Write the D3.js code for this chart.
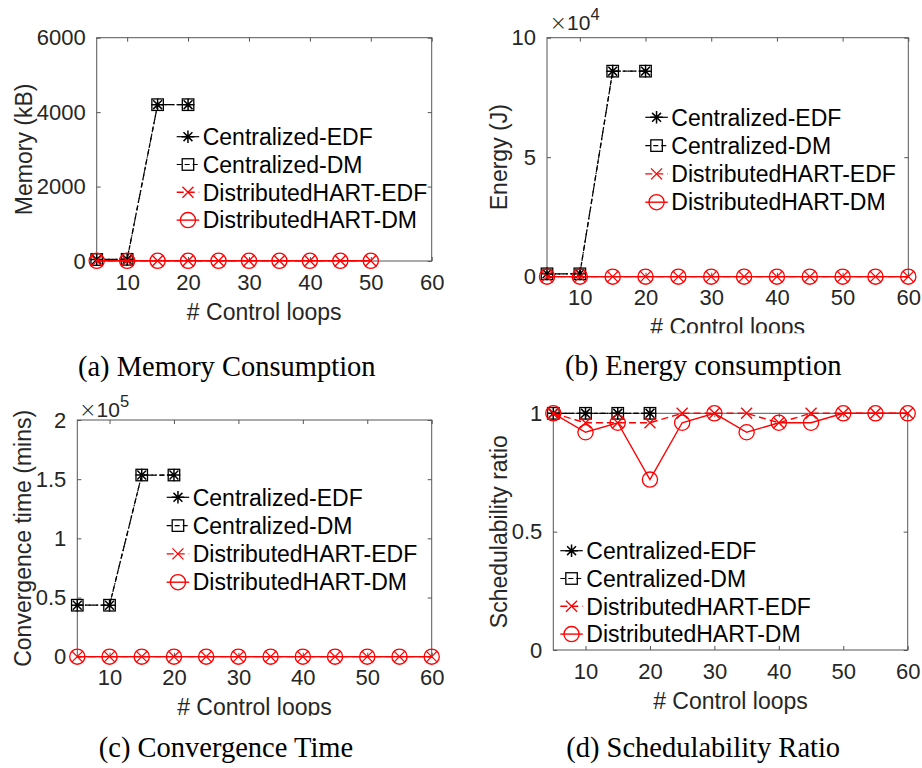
<!DOCTYPE html>
<html>
<head>
<meta charset="utf-8">
<script src="https://cdn.jsdelivr.net/npm/d3@7"></script>
<style>
  body { margin: 0; background: #fff; }
  svg { display: block; }
</style>
</head>
<body>
<svg id="fig" width="922" height="768"></svg>
<script>
// ---- data ----
const loopsAll = [5, 10, 15, 20, 25, 30, 35, 40, 45, 50, 55, 60];
const loopsCentral = [5, 10, 15, 20];
const loopsMemDist = [5, 10, 15, 20, 25, 30, 35, 40, 45, 50];

const seriesNames = ["Centralized-EDF", "Centralized-DM", "DistributedHART-EDF", "DistributedHART-DM"];

// Memory (kB)
const memCentralEDF = [40, 45, 4200, 4200];
const memCentralDM  = [40, 45, 4200, 4200];
const memDistEDF    = [5, 5, 5, 5, 5, 5, 5, 5, 5, 5];
const memDistDM     = [5, 5, 5, 5, 5, 5, 5, 5, 5, 5];

// Energy (J)
const energyCentralEDF = [1200, 1200, 86000, 86000];
const energyCentralDM  = [1200, 1200, 86000, 86000];
const energyDistEDF    = [20, 20, 20, 20, 20, 20, 20, 20, 20, 20, 20, 20];
const energyDistDM     = [20, 20, 20, 20, 20, 20, 20, 20, 20, 20, 20, 20];

// Convergence time (mins)
const convCentralEDF = [43500, 43500, 153500, 153500];
const convCentralDM  = [43500, 43500, 153500, 153500];
const convDistEDF    = [50, 50, 50, 50, 50, 50, 50, 50, 50, 50, 50, 50];
const convDistDM     = [50, 50, 50, 50, 50, 50, 50, 50, 50, 50, 50, 50];

// Schedulability ratio
const schedCentralEDF = [1, 1, 1, 1];
const schedCentralDM  = [1, 1, 1, 1];
const schedDistEDF    = [1, 0.96, 0.96, 0.96, 1, 1, 1, 0.96, 1, 1, 1, 1];
const schedDistDM     = [1, 0.92, 0.96, 0.72, 0.96, 1, 0.92, 0.96, 0.96, 1, 1, 1];

// ticks
const xTicks = [10, 20, 30, 40, 50, 60];
const memTicks = [0, 2000, 4000, 6000];
const energyTicks = [0, 50000, 100000];
const energyTickLabels = ["0", "5", "10"];
const convTicks = [0, 50000, 100000, 150000, 200000];
const convTickLabels = ["0", "0.5", "1", "1.5", "2"];
const schedTicks = [0, 0.5, 1];
const schedTickLabels = ["0", "0.5", "1"];

// ---- styles ----
const styles = [
  { color: "#000", dash: "5,2.5,1.5,2.5", marker: "asterisk", width: 1.2 },
  { color: "#000", dash: "5,3",           marker: "square",   width: 1.2 },
  { color: "#ff0000", dash: "7,4",        marker: "x",        width: 1.4 },
  { color: "#ff0000", dash: null,         marker: "circle",   width: 1.4 }
];

const TEXT = "#262626";
const SANS = "'Liberation Sans', Arial, Helvetica, sans-serif";
const SERIF = "'Liberation Serif', 'Times New Roman', serif";

const svg = d3.select("#fig");
const defs = svg.append("defs");

function drawMarker(g, type, cx, cy, color) {
  if (type === "asterisk") {
    const r = 6.3, d = r * 0.7071;
    const p = `M${cx - r},${cy}L${cx + r},${cy}M${cx},${cy - r}L${cx},${cy + r}` +
              `M${cx - d},${cy - d}L${cx + d},${cy + d}M${cx - d},${cy + d}L${cx + d},${cy - d}`;
    g.append("path").attr("d", p).attr("stroke", color).attr("stroke-width", 1.5).attr("fill", "none");
  } else if (type === "square") {
    const s = 11.5;
    g.append("rect").attr("x", cx - s / 2).attr("y", cy - s / 2).attr("width", s).attr("height", s)
      .attr("stroke", color).attr("stroke-width", 1.3).attr("fill", "none");
  } else if (type === "x") {
    const d = 5.5;
    g.append("path").attr("d", `M${cx - d},${cy - d}L${cx + d},${cy + d}M${cx - d},${cy + d}L${cx + d},${cy - d}`)
      .attr("stroke", color).attr("stroke-width", 1.3).attr("fill", "none");
  } else if (type === "circle") {
    g.append("circle").attr("cx", cx).attr("cy", cy).attr("r", 7.6)
      .attr("stroke", color).attr("stroke-width", 1.3).attr("fill", "none");
  }
}

function drawPanel(p) {
  const g = svg.append("g");
  const x = d3.scaleLinear().domain([5, 60]).range([p.L, p.R]);
  const y = d3.scaleLinear().domain(p.yDomain).range([p.B, p.T]);

  // axes box
  g.append("rect").attr("x", p.L).attr("y", p.T).attr("width", p.R - p.L).attr("height", p.B - p.T)
    .attr("fill", "none").attr("stroke", "#555").attr("stroke-width", 1);

  // x axis (bottom, inward ticks) and mirrored top ticks
  const xb = g.append("g").attr("transform", `translate(0,${p.B})`)
    .call(d3.axisBottom(x).tickValues(xTicks).tickSizeInner(-4).tickSizeOuter(0).tickPadding(13));
  const xt = g.append("g").attr("transform", `translate(0,${p.T})`)
    .call(d3.axisTop(x).tickValues(xTicks).tickSizeInner(-4).tickSizeOuter(0).tickFormat(""));
  // y axis (left, inward ticks) and mirrored right ticks
  const yl = g.append("g").attr("transform", `translate(${p.L},0)`)
    .call(d3.axisLeft(y).tickValues(p.yTicks).tickSizeInner(-4).tickSizeOuter(0).tickPadding(11)
      .tickFormat((d, i) => p.yTickLabels[i]));
  const yr = g.append("g").attr("transform", `translate(${p.R},0)`)
    .call(d3.axisRight(y).tickValues(p.yTicks).tickSizeInner(-4).tickSizeOuter(0).tickFormat(""));

  [xb, xt, yl, yr].forEach(a => {
    a.select(".domain").remove();
    a.selectAll(".tick line").attr("stroke", "#555");
    a.selectAll("text").attr("fill", TEXT).style("font-family", SANS).style("font-size", "22px");
  });
  xb.selectAll("text").attr("dy", "0.71em");

  // exponent label
  if (p.exp) {
    const t = g.append("text").attr("x", p.exp.x).attr("y", p.exp.y).attr("fill", TEXT)
      .style("font-family", SANS).style("font-size", "21px");
    t.append("tspan").style("font-family", "'DejaVu Sans', sans-serif").style("font-size", "21px")
      .style("font-weight", "300").text("\u00d7");
    t.append("tspan").text("10");
    t.append("tspan").attr("dy", -9.5).style("font-size", "16.5px").text(p.exp.power);
  }

  // axis labels
  const xl = g.append("text").attr("x", (p.L + p.R) / 2).attr("y", p.B + 50.5).attr("dy", "0.35em")
    .attr("text-anchor", "middle").attr("fill", TEXT)
    .style("font-family", SANS).style("font-size", "23px").text("# Control loops");
  if (p.clipY) {
    const id = "clip" + p.id;
    defs.append("clipPath").attr("id", id).append("rect")
      .attr("x", p.L - 100).attr("y", p.B).attr("width", p.R - p.L + 200).attr("height", p.clipY - p.B);
    xl.attr("clip-path", `url(#${id})`);
  }
  g.append("text")
    .attr("transform", `translate(${p.yLabelX},${(p.T + p.B) / 2}) rotate(-90)`)
    .attr("dy", "0.35em").attr("text-anchor", "middle").attr("fill", TEXT)
    .style("font-family", SANS).style("font-size", "23px").text(p.yLabel);

  // series lines and markers
  p.series.forEach((s, i) => {
    const st = styles[i];
    const pts = s.xs.map((xv, j) => [x(xv), y(s.ys[j])]);
    g.append("path").attr("d", d3.line()(pts)).attr("fill", "none")
      .attr("stroke", st.color).attr("stroke-width", st.width)
      .attr("stroke-dasharray", st.dash);
    const mg = g.append("g");
    pts.forEach(pt => drawMarker(mg, st.marker, pt[0], pt[1], st.color));
  });

  // legend
  const lg = g.append("g");
  seriesNames.forEach((name, i) => {
    const st = styles[i];
    const ly = p.legend.y + i * p.legend.step;
    const x0 = p.legend.x, x1 = p.legend.x + 22.5;
    lg.append("line").attr("x1", x0).attr("x2", x1).attr("y1", ly).attr("y2", ly)
      .attr("stroke", st.color).attr("stroke-width", st.width)
      .attr("stroke-dasharray", i === 0 ? null : st.dash);
    drawMarker(lg, st.marker, (x0 + x1) / 2, ly, st.color);
    lg.append("text").attr("x", x1 + 3.5).attr("y", ly).attr("dy", "0.36em").attr("fill", "#000")
      .style("font-family", SANS).style("font-size", "23px").text(name);
  });

  // caption
  g.append("text").attr("x", p.capX).attr("y", p.capY).attr("text-anchor", "middle").attr("fill", "#000")
    .style("font-family", SERIF).style("font-size", "28.5px").text(p.caption);
}

const panels = [
  {
    id: "a", L: 96.7, R: 431.7, T: 37.7, B: 261,
    yDomain: [0, 6000], yTicks: memTicks, yTickLabels: memTicks.map(String),
    yLabel: "Memory (kB)", yLabelX: 23.5,
    series: [
      { xs: loopsCentral, ys: memCentralEDF },
      { xs: loopsCentral, ys: memCentralDM },
      { xs: loopsMemDist, ys: memDistEDF },
      { xs: loopsMemDist, ys: memDistDM }
    ],
    legend: { x: 176.7, y: 136.7, step: 27.8 },
    caption: "(a) Memory Consumption", capX: 226.8, capY: 375.5
  },
  {
    id: "b", L: 547, R: 908.3, T: 37.7, B: 276.7,
    yDomain: [0, 100000], yTicks: energyTicks, yTickLabels: energyTickLabels,
    yLabel: "Energy (J)", yLabelX: 499.3,
    exp: { x: 549.5, y: 29.5, power: "4" },
    clipY: 333.3,
    series: [
      { xs: loopsCentral, ys: energyCentralEDF },
      { xs: loopsCentral, ys: energyCentralDM },
      { xs: loopsAll, ys: energyDistEDF },
      { xs: loopsAll, ys: energyDistDM }
    ],
    legend: { x: 645.3, y: 117.3, step: 28.3 },
    caption: "(b) Energy consumption", capX: 703.2, capY: 375
  },
  {
    id: "c", L: 77.3, R: 431.7, T: 420, B: 656.7,
    yDomain: [0, 200000], yTicks: convTicks, yTickLabels: convTickLabels,
    yLabel: "Convergence time (mins)", yLabelX: 23.3,
    exp: { x: 79, y: 416.7, power: "5" },
    clipY: 715.7,
    series: [
      { xs: loopsCentral, ys: convCentralEDF },
      { xs: loopsCentral, ys: convCentralDM },
      { xs: loopsAll, ys: convDistEDF },
      { xs: loopsAll, ys: convDistDM }
    ],
    legend: { x: 166.7, y: 497.3, step: 28.3 },
    caption: "(c) Convergence Time", capX: 226, capY: 756.7
  },
  {
    id: "d", L: 553.3, R: 907.7, T: 413.3, B: 650,
    yDomain: [0, 1], yTicks: schedTicks, yTickLabels: schedTickLabels,
    yLabel: "Schedulability ratio", yLabelX: 499.3,
    series: [
      { xs: loopsCentral, ys: schedCentralEDF },
      { xs: loopsCentral, ys: schedCentralDM },
      { xs: loopsAll, ys: schedDistEDF },
      { xs: loopsAll, ys: schedDistDM }
    ],
    legend: { x: 560.3, y: 550.7, step: 27.8 },
    caption: "(d) Schedulability Ratio", capX: 703.2, capY: 757.3
  }
];

panels.forEach(drawPanel);
</script>
</body>
</html>
